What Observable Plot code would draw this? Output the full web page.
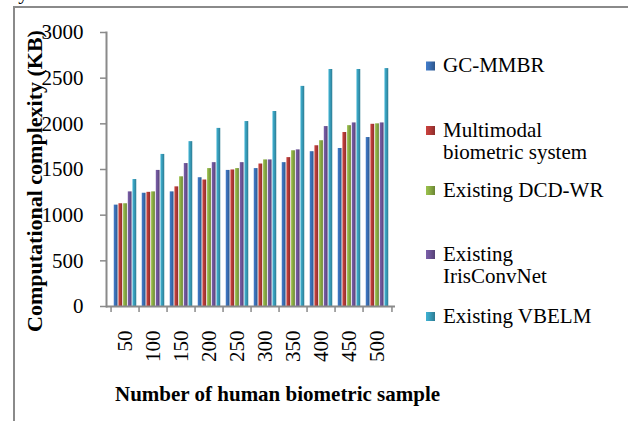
<!DOCTYPE html>
<html><head><meta charset="utf-8">
<script src="https://cdn.jsdelivr.net/npm/d3@7"></script>
<script src="https://cdn.jsdelivr.net/npm/@observablehq/plot@0.6"></script>
<style>
html,body{margin:0;padding:0;background:#fff;width:628px;height:421px;overflow:hidden;position:relative;font-family:"Liberation Serif","Times New Roman",serif;}
#frame{position:absolute;left:13px;top:6px;width:700px;height:500px;border-top:2px solid #8a8a8a;border-left:2px solid #8a8a8a;}
#chart{position:absolute;left:0;top:0;}
#overlay{position:absolute;left:0;top:0;}
</style></head><body>
<div id="frame"></div>
<div id="chart"></div>
<svg id="overlay" width="628" height="421"></svg>
<script>
// ---- data ----
const categories = ["50","100","150","200","250","300","350","400","450","500"];
const series = ["GC-MMBR","Multimodal biometric system","Existing DCD-WR","Existing IrisConvNet","Existing VBELM"];
const legendLines = [["GC-MMBR"],["Multimodal","biometric system"],["Existing DCD-WR"],["Existing","IrisConvNet"],["Existing VBELM"]];
const gcMmbr     = [1110,1240,1255,1410,1490,1510,1575,1695,1730,1850];
const multimodal = [1125,1250,1310,1385,1495,1560,1630,1760,1905,1995];
const dcdWr      = [1125,1255,1420,1510,1510,1605,1705,1815,1980,2000];
const irisConv   = [1255,1490,1565,1575,1575,1605,1715,1970,2010,2010];
const vbelm      = [1390,1665,1805,1950,2025,2135,2410,2595,2595,2605];
const yTicks = [0,500,1000,1500,2000,2500,3000];
const yTitle = "Computational complexity (KB)";
const xTitle = "Number of human biometric sample";
const fragmentText = "system.";
const colors = ["#3a6eb3","#b43a37","#89ab43","#6d5496","#389dba"];

const values = [gcMmbr, multimodal, dcdWr, irisConv, vbelm];
const data = categories.flatMap((c,i)=>series.map((s,j)=>({cat:c, series:s, value:values[j][i]})));

// ---- layout ----
const W = 628, H = 421, mL = 106, mR = 233, mT = 32, mB = 115;
const step = (W - mL - mR) / categories.length;
const barW = 4.68;
const groupPad = (step - series.length * barW) / 2;
const axisColor = "#8a8a8a";
const font = '"Liberation Serif","Times New Roman",serif';

const plot = Plot.plot({
  width: W, height: H,
  marginLeft: mL, marginRight: mR, marginTop: mT, marginBottom: mB,
  style: {fontFamily: font, fontSize: "21px", color: "#000", background: "transparent", overflow: "visible"},
  x: {domain: categories, padding: 0, axis: null},
  y: {domain: [0, 3000], axis: null},
  color: {domain: series, range: series.map((s,i)=>`url(#grad${i})`)},
  marks: [
    ...series.map((s,j)=>Plot.barY(data.filter(d=>d.series===s), {
      x: "cat", y: "value", fill: "series",
      insetLeft: groupPad + j*barW, insetRight: step - groupPad - (j+1)*barW
    })),
    Plot.ruleY([0], {stroke: axisColor, strokeWidth: 2}),
    Plot.frame({anchor: "left", stroke: axisColor, strokeWidth: 2}),
    Plot.axisY({ticks: yTicks, text: null, tickSize: 6, stroke: axisColor, strokeWidth: 1.5, label: null}),
    Plot.axisY({ticks: yTicks, tickSize: 0, tickPadding: 0, dx: -23, label: null, tickFormat: d3.format("d"), fill: "#000"}),
    Plot.axisX({anchor: "bottom", tickSize: 0, tickRotate: -90, tickPadding: 24, label: null, fill: "#000"}),
    Plot.axisX({anchor: "bottom", text: null, tickSize: 6, dx: -step/2, stroke: axisColor, strokeWidth: 1.5, label: null}),
    Plot.axisX({anchor: "bottom", ticks: [categories[categories.length-1]], text: null, tickSize: 6, dx: step/2, stroke: axisColor, strokeWidth: 1.5, label: null})
  ]
});
document.getElementById("chart").appendChild(plot);

// gradients for the bar fills
const svg = d3.select(plot);
const defs = svg.insert("defs", ":first-child");
colors.forEach((c,i)=>{
  const g = defs.append("linearGradient").attr("id","grad"+i).attr("x1","0").attr("x2","1").attr("y1","0").attr("y2","0");
  g.append("stop").attr("offset","0").attr("stop-color", d3.color(c).brighter(0.35).formatHex());
  g.append("stop").attr("offset","0.45").attr("stop-color", c);
  g.append("stop").attr("offset","1").attr("stop-color", d3.color(c).darker(0.7).formatHex());
});

// ---- overlay: titles, legend ----
const ov = d3.select("#overlay").style("font-family", font).style("font-size","21px");
ov.append("text").attr("x", 10).attr("y", -1).text(fragmentText);
ov.append("text").attr("transform","translate(42,181) rotate(-90)").attr("text-anchor","middle")
  .attr("font-weight","bold").attr("font-size","22px").text(yTitle);
ov.append("text").attr("x",115).attr("y",401).attr("font-weight","bold").text(xTitle);

const legendBaselines = [72, 136.5, 196.5, 260.5, 322.5];
const lineGap = 22.5;
legendLines.forEach((lines,i)=>{
  const b = legendBaselines[i];
  ov.append("rect").attr("x",426).attr("y",b-10.5).attr("width",9).attr("height",9).attr("fill",`url(#grad${i})`);
  const t = ov.append("text").attr("x",443).attr("y",b);
  lines.forEach((ln,k)=>t.append("tspan").attr("x",443).attr("y",b + k*lineGap).text(ln));
});
</script>
</body></html>
